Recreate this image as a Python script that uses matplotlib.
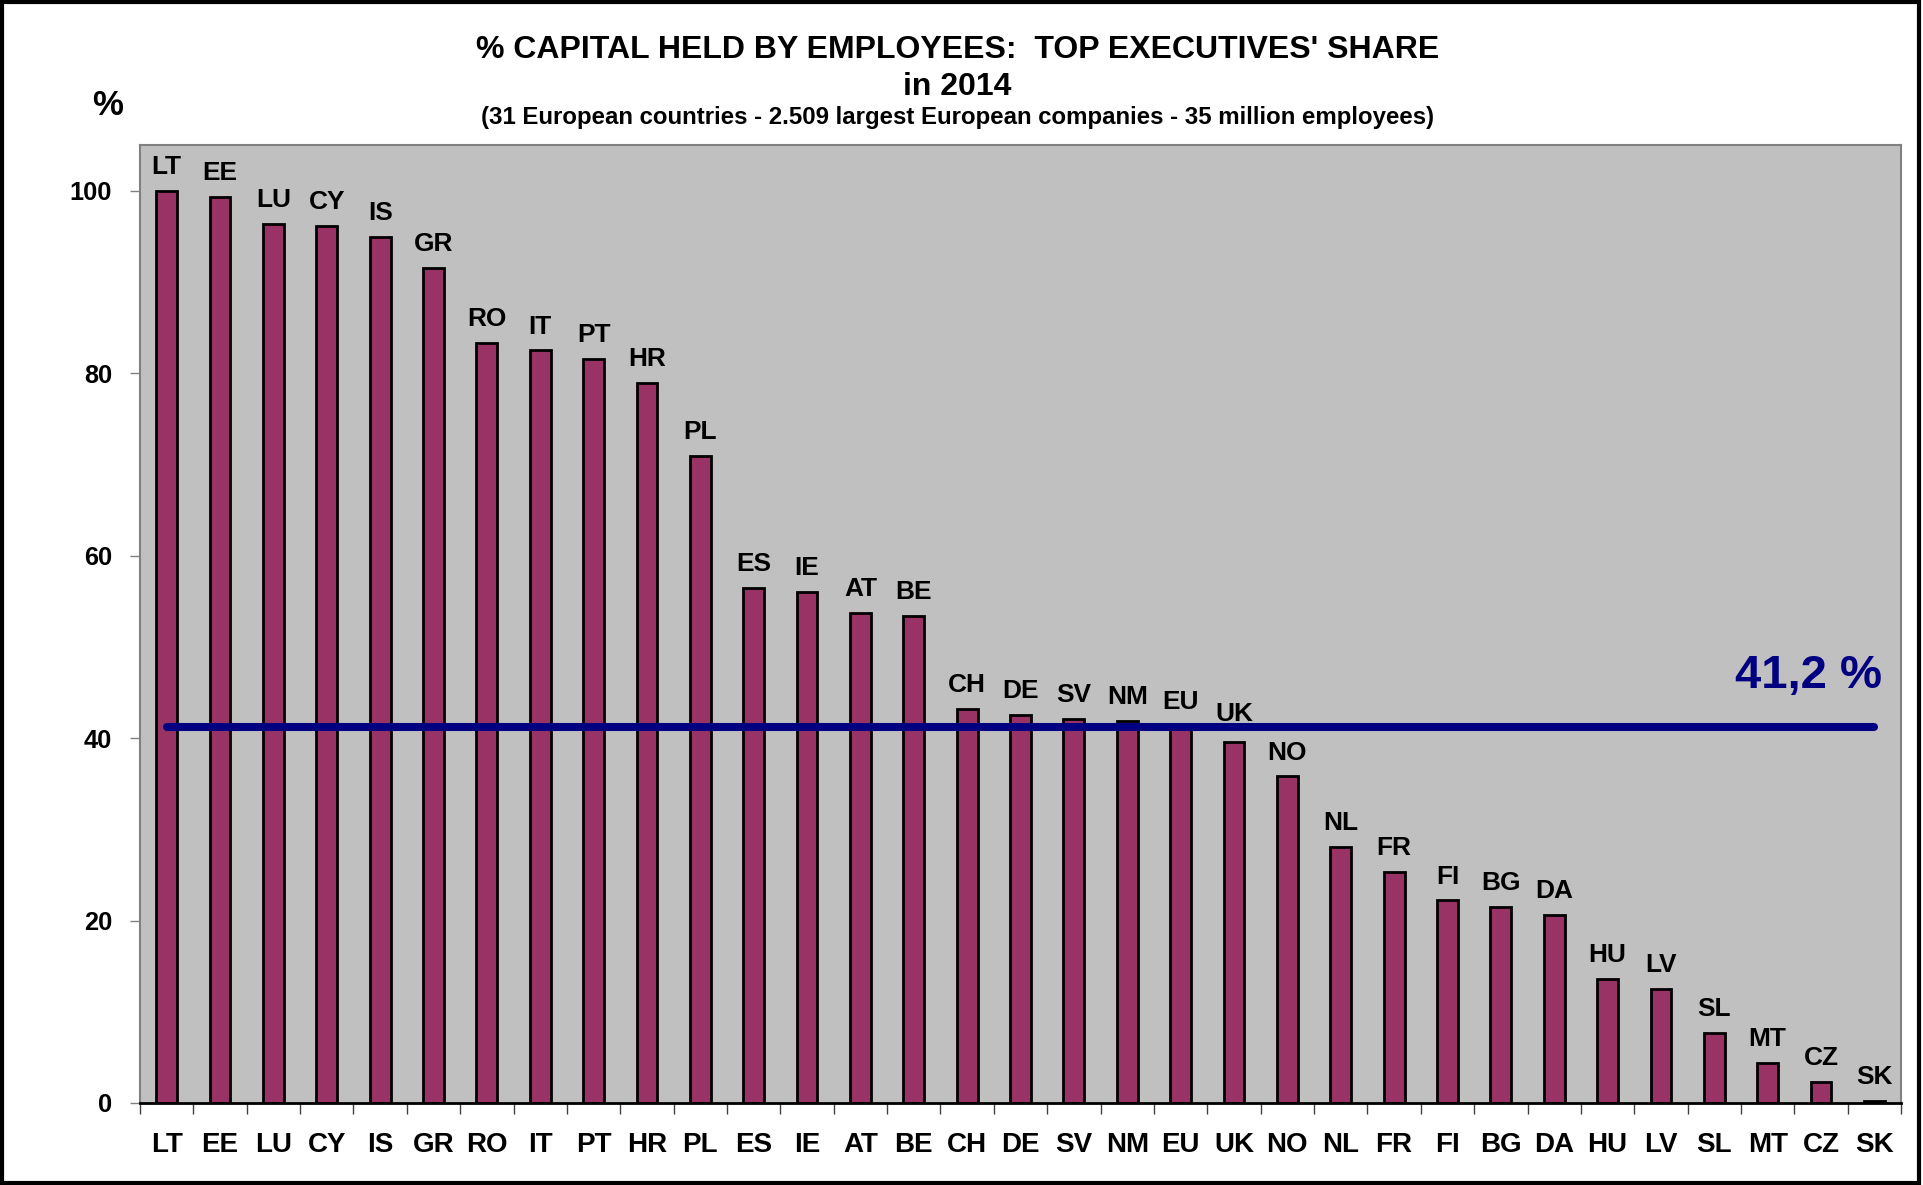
import matplotlib
matplotlib.use("Agg")
import matplotlib.pyplot as plt
from matplotlib.patches import Rectangle

countries = ["LT", "EE", "LU", "CY", "IS", "GR", "RO", "IT", "PT", "HR", "PL",
             "ES", "IE", "AT", "BE", "CH", "DE", "SV", "NM", "EU", "UK", "NO",
             "NL", "FR", "FI", "BG", "DA", "HU", "LV", "SL", "MT", "CZ", "SK"]
shares = [100.0, 99.3, 96.4, 96.1, 94.9, 91.5, 83.3, 82.5, 81.6, 78.9, 70.9,
          56.5, 56.0, 53.7, 53.4, 43.2, 42.5, 42.1, 41.9, 41.3, 39.6, 35.8,
          28.1, 25.3, 22.2, 21.5, 20.6, 13.6, 12.5, 7.7, 4.4, 2.3, 0.2]
average = 41.2
avg_label = "41,2 %"
yticks = [0, 20, 40, 60, 80, 100]

title1 = "% CAPITAL HELD BY EMPLOYEES:  TOP EXECUTIVES' SHARE"
title2 = "in 2014"
subtitle = "(31 European countries - 2.509 largest European companies - 35 million employees)"

FONT = "Liberation Sans"
BAR = "#993366"
BG = "#C0C0C0"
NAVY = "#000080"

fig = plt.figure(figsize=(19.23, 11.85), dpi=100)
ax = fig.add_axes([0.0728, 0.0692, 0.9158, 0.8084])
ax.set_facecolor(BG)

x = list(range(len(countries)))
ax.bar(x, shares, width=0.39, color=BAR, edgecolor="black", linewidth=2, zorder=2)
ax.plot(x, [average] * len(x), color=NAVY, linewidth=5.8, solid_capstyle="round", zorder=3)

# country code on top of each bar (UK pushed up a little, clear of the line)
for xi, v, c in zip(x, shares, countries):
    dy = 8.5 + (3 if c == "UK" else 0)
    ax.annotate(c, (xi, v), xytext=(0, dy), textcoords="offset points",
                ha="center", va="bottom", fontsize=18.9, fontweight="bold",
                family=FONT)

ax.text(32.15, 45.5, avg_label, ha="right", va="baseline", color=NAVY,
        fontsize=34, fontweight="bold", family=FONT, zorder=4)

ax.set_xlim(-0.5, len(countries) - 0.5)
ax.set_ylim(0, 105)

# ticks between categories, labels in the middle
ax.set_xticks([i - 0.5 for i in range(len(countries) + 1)])
ax.set_xticklabels([])
ax.set_xticks(x, minor=True)
ax.set_xticklabels(countries, minor=True, fontsize=20, fontweight="bold", family=FONT)
ax.tick_params(axis="x", which="major", length=8, width=1, color="#404040", direction="out")
ax.tick_params(axis="x", which="minor", length=0, pad=21)

ax.set_yticks(yticks)
ax.set_yticklabels([str(t) for t in yticks], fontsize=18.3, fontweight="bold", family=FONT)
ax.tick_params(axis="y", length=7, width=1, color="#808080", pad=13)

for s in ["left", "top", "right"]:
    ax.spines[s].set_color("#808080")
    ax.spines[s].set_linewidth(1.5)
ax.spines["bottom"].set_color("black")
ax.spines["bottom"].set_linewidth(2)

fig.text(0.498, 0.9511, title1, ha="center", va="baseline", fontsize=23,
         fontweight="bold", family=FONT)
fig.text(0.498, 0.920, title2, ha="center", va="baseline", fontsize=23,
         fontweight="bold", family=FONT)
fig.text(0.498, 0.8955, subtitle, ha="center", va="baseline", fontsize=17.3,
         fontweight="bold", family=FONT)
fig.text(0.0558, 0.903, "%", ha="center", va="baseline", fontsize=25,
         fontweight="bold", family=FONT)

fig.add_artist(Rectangle((0.001, 0.002), 0.997, 0.996, transform=fig.transFigure,
                         fill=False, edgecolor="black", linewidth=3))

fig.savefig("out.png", dpi=100)
